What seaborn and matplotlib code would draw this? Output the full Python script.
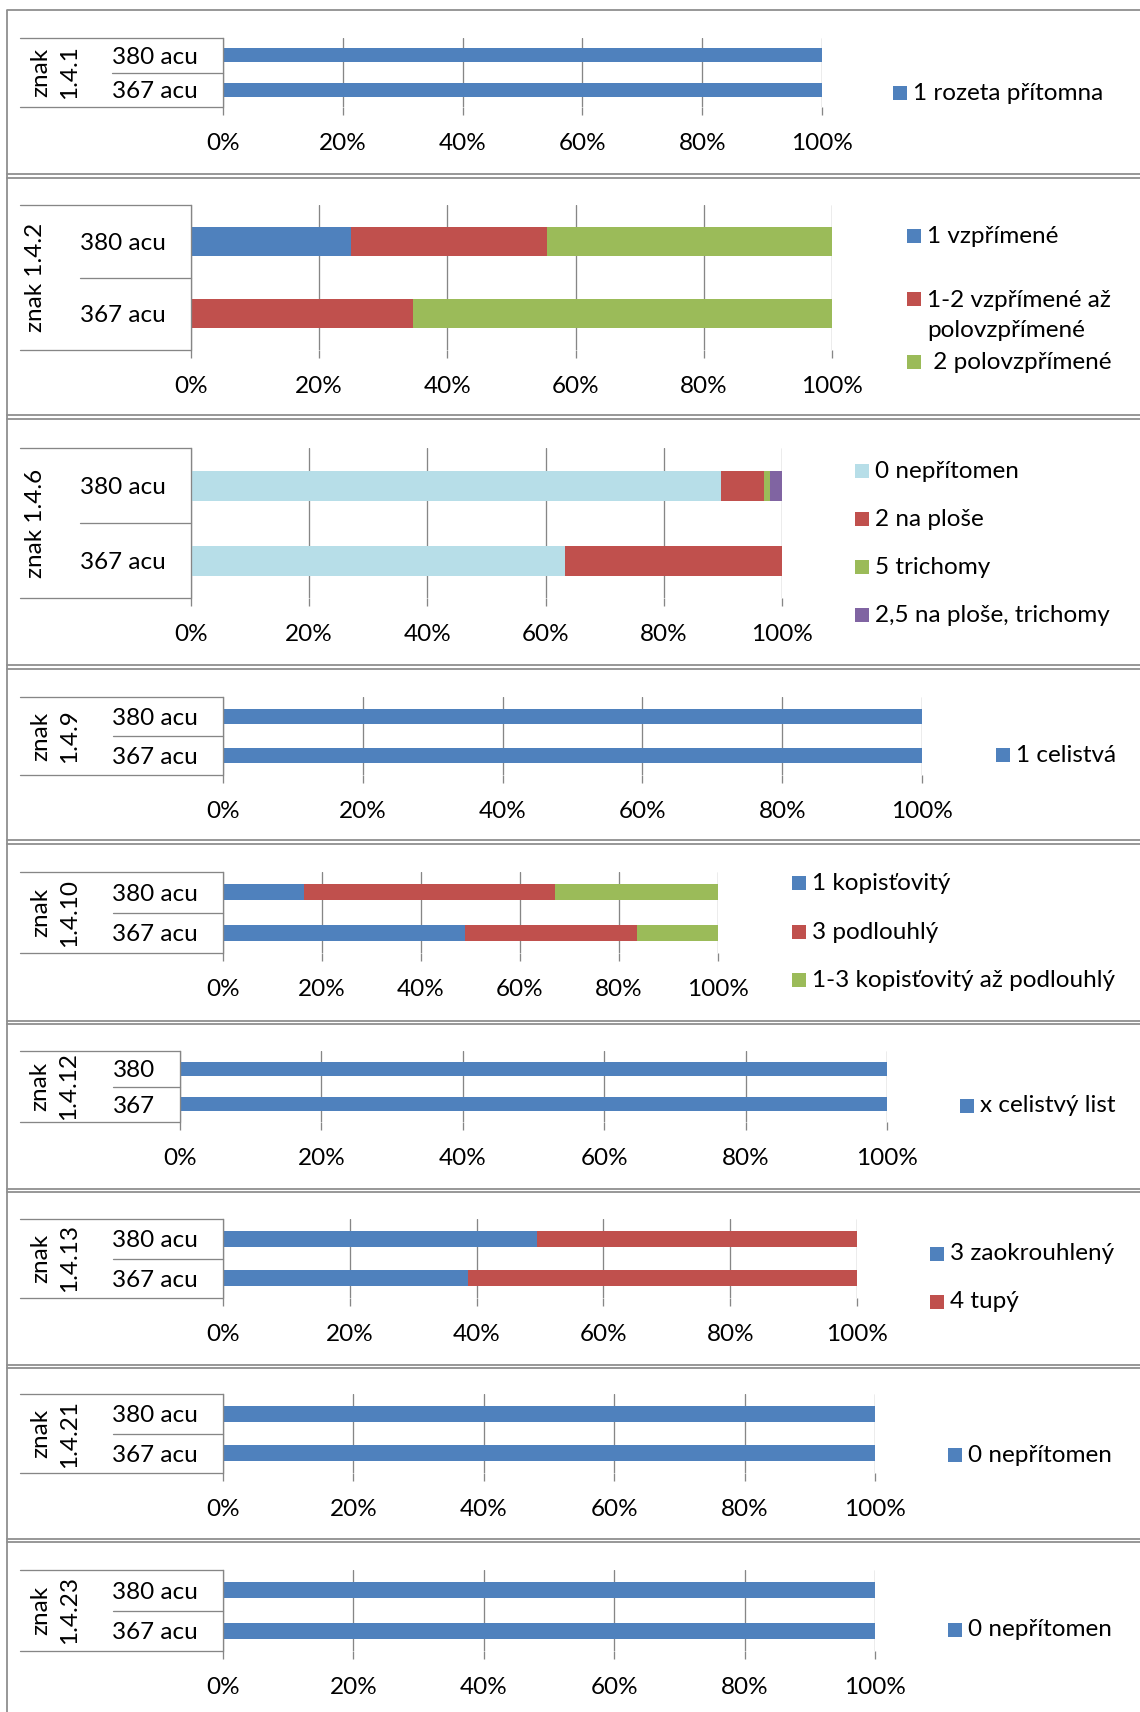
import numpy as np
import pandas as pd
import matplotlib
matplotlib.use("Agg")
import matplotlib.pyplot as plt
from matplotlib.patches import Rectangle
import seaborn as sns

sns.set_theme(style="white")
plt.rcParams["font.family"] = ["Lato", "DejaVu Sans"]

W, H = 1140, 1712
FS = 17.5

BLUE = "#4F81BD"
RED = "#C0504D"
GREEN = "#9BBB59"
PURPLE = "#8064A2"
AQUA = "#B7DEE8"
GRID = "#868686"
FRAME = "#8E8E8E"

# ---- data -------------------------------------------------------------
ACC = ["380 acu", "367 acu"]
ACC_SHORT = ["380", "367"]
PCT_TICKS = [0, 20, 40, 60, 80, 100]
PCT_LABELS = ["0%", "20%", "40%", "60%", "80%", "100%"]

z141_names = ["1 rozeta přítomna"]
z141_values = [[100, 100]]

z142_names = ["1 vzpřímené", "1-2 vzpřímené až\npolovzpřímené", " 2 polovzpřímené"]
z142_values = [[25.0, 0.0], [30.6, 34.7], [44.4, 65.3]]

z146_names = ["0 nepřítomen", "2 na ploše", "5 trichomy", "2,5 na ploše, trichomy"]
z146_values = [[89.7, 63.3], [7.2, 36.7], [1.0, 0.0], [2.1, 0.0]]

z149_names = ["1 celistvá"]
z149_values = [[100, 100]]

z1410_names = ["1 kopisťovitý", "3 podlouhlý", "1-3 kopisťovitý až podlouhlý"]
z1410_values = [[16.3, 48.9], [50.7, 34.8], [33.0, 16.3]]

z1412_names = ["x celistvý list"]
z1412_values = [[100, 100]]

z1413_names = ["3 zaokrouhlený", "4 tupý"]
z1413_values = [[49.5, 38.6], [50.5, 61.4]]

z1421_names = ["0 nepřítomen"]
z1421_values = [[100, 100]]

z1423_names = ["0 nepřítomen"]
z1423_values = [[100, 100]]

PANELS = [
    ("znak\n1.4.1", ACC, z141_names, z141_values, [BLUE]),
    ("znak 1.4.2", ACC, z142_names, z142_values, [BLUE, RED, GREEN]),
    ("znak 1.4.6", ACC, z146_names, z146_values, [AQUA, RED, GREEN, PURPLE]),
    ("znak\n1.4.9", ACC, z149_names, z149_values, [BLUE]),
    ("znak\n1.4.10", ACC, z1410_names, z1410_values, [BLUE, RED, GREEN]),
    ("znak\n1.4.12", ACC_SHORT, z1412_names, z1412_values, [BLUE]),
    ("znak\n1.4.13", ACC, z1413_names, z1413_values, [BLUE, RED]),
    ("znak\n1.4.21", ACC, z1421_names, z1421_values, [BLUE]),
    ("znak\n1.4.23", ACC, z1423_names, z1423_values, [BLUE]),
]

# ---- layout (pixels) ---------------------------------------------------
LAYOUT = [
    dict(x0=223, x1=822, top=38, bot=107, inner=112, lab_x=55, leg_x=893, leg_y=[93]),
    dict(x0=191, x1=832, top=205, bot=350, inner=80, lab_x=35, leg_x=907, leg_y=[236, 299, 362]),
    dict(x0=191, x1=782, top=448, bot=598, inner=80, lab_x=35, leg_x=855, leg_y=[471, 519, 567, 615]),
    dict(x0=223, x1=922, top=697, bot=775, inner=113, lab_x=55, leg_x=996, leg_y=[755]),
    dict(x0=223, x1=718, top=872, bot=953, inner=113, lab_x=55, leg_x=792, leg_y=[883, 932, 980]),
    dict(x0=180, x1=887, top=1051, bot=1122, inner=113, lab_x=54, leg_x=960, leg_y=[1106]),
    dict(x0=223, x1=857, top=1219, bot=1298, inner=113, lab_x=55, leg_x=930, leg_y=[1254, 1302]),
    dict(x0=223, x1=875, top=1394, bot=1473, inner=113, lab_x=55, leg_x=948, leg_y=[1455]),
    dict(x0=223, x1=875, top=1570, bot=1651, inner=113, lab_x=55, leg_x=948, leg_y=[1630]),
]
FRAME_TOP = 10
FRAME_GAPS = [(174, 177.5), (415, 418.5), (665, 668.5), (840, 843.5),
              (1020.5, 1024), (1188.5, 1192), (1364.5, 1368), (1538.5, 1542)]
OUTER_LEFT = 20
LEGEND_PITCH = 33
PX = 72 / 100  # points per pixel

fig = plt.figure(figsize=(W / 100, H / 100), dpi=100)
fig.patch.set_facecolor("white")

bg = fig.add_axes([0, 0, 1, 1])
bg.set_xlim(0, W)
bg.set_ylim(H, 0)
bg.axis("off")
bg.set_zorder(0)

# panel frames
bg.plot([7, 7], [FRAME_TOP, H], color=FRAME, lw=1.8 * PX, solid_capstyle="butt")
bg.plot([7, W], [FRAME_TOP, FRAME_TOP], color=FRAME, lw=1.8 * PX)
for a, b in FRAME_GAPS:
    bg.plot([7, W], [a, a], color=FRAME, lw=1.8 * PX)
    bg.plot([7, W], [b, b], color=FRAME, lw=1.8 * PX)


def px_rect(lay):
    return [lay["x0"] / W, 1 - lay["bot"] / H,
            (lay["x1"] - lay["x0"]) / W, (lay["bot"] - lay["top"]) / H]


for (label, cats, names, values, colors), lay in zip(PANELS, LAYOUT):
    ax = fig.add_axes(px_rect(lay))
    ax.set_zorder(1)
    ax.set_facecolor("none")

    df = pd.DataFrame({n: v for n, v in zip(names, values)}, index=cats)
    cum = df.cumsum(axis=1)
    # stacked bars: draw cumulative totals from the outermost segment inwards
    for name, color in reversed(list(zip(names, colors))):
        sns.barplot(x=cum[name].values, y=cats, orient="h", color=color,
                    width=0.4, errorbar=None, saturation=1, linewidth=0, ax=ax)

    ax.set_xlim(0, 100)
    ax.set_ylim(1.5, -0.5)
    ax.set_xticks(PCT_TICKS)
    ax.set_xticklabels(PCT_LABELS)
    ax.set_xlabel("")
    ax.set_ylabel("")
    ax.set_axisbelow(True)
    ax.grid(axis="x", color=GRID, linewidth=1.3 * PX)
    ax.grid(axis="y", visible=False)
    for s in ["top", "right", "bottom"]:
        ax.spines[s].set_visible(False)
    ax.spines["left"].set_color(GRID)
    ax.spines["left"].set_linewidth(1.3 * PX)
    ax.tick_params(axis="x", length=8 * PX, width=1.3 * PX, color=GRID,
                   pad=18 * PX, labelsize=FS, labelcolor="black", bottom=True)
    ax.tick_params(axis="y", length=0, pad=25 * PX, labelsize=FS, labelcolor="black")

    # multi-level category axis separators
    mid = (lay["top"] + lay["bot"]) / 2
    lw = 1.3 * PX
    bg.plot([OUTER_LEFT, lay["x0"]], [lay["top"], lay["top"]], color=GRID, lw=lw)
    bg.plot([lay["inner"], lay["x0"]], [mid, mid], color=GRID, lw=lw)
    bg.plot([OUTER_LEFT, lay["x0"]], [lay["bot"], lay["bot"]], color=GRID, lw=lw)
    bg.text(lay["lab_x"], mid, label, rotation=90, ha="center", va="center",
            multialignment="center", fontsize=FS, linespacing=1.45, color="black")

    # legend
    for name, color, y in zip(names, colors, lay["leg_y"]):
        bg.add_patch(Rectangle((lay["leg_x"], y - 7), 14, 14, color=color, lw=0))
        n_lines = name.count("\n") + 1
        ty = y + (n_lines - 1) * LEGEND_PITCH / 2
        bg.text(lay["leg_x"] + 20, ty, name, ha="left", va="center",
                fontsize=FS, linespacing=1.5, color="black")

fig.savefig("out.png", dpi=100)
